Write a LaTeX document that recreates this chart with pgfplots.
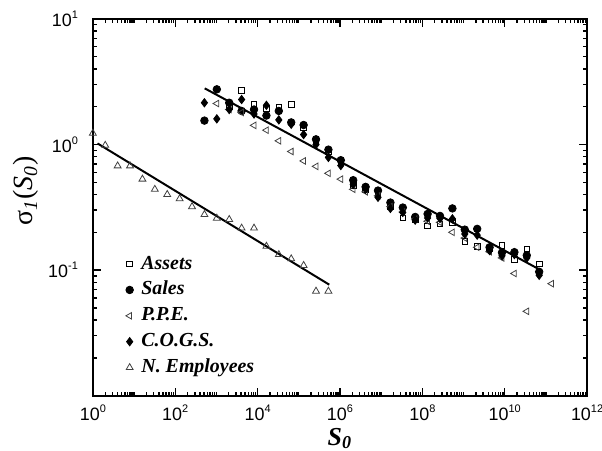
\documentclass[border=0pt]{standalone}
\usepackage{pgfplots}
\pgfplotsset{compat=1.18}
\usepackage{fontspec}
\setmainfont{Liberation Serif}
\setsansfont{Liberation Sans}
\newcommand{\tl}[1]{10\raisebox{0.85ex}{\fontsize{5.5}{6}\selectfont #1}}
\begin{document}
\begin{tikzpicture}
\begin{axis}[
  scale only axis,
  width=248.35pt, height=189.35pt,
  xmode=log, ymode=log,
  xmin=1, xmax=1e12, ymin=0.01, ymax=10,
  axis line style={line width=1.2pt},
  every tick/.style={black, line width=0.7pt},
  major tick length=4pt, minor tick length=2pt,
  xtick={1,1e2,1e4,1e6,1e8,1e10,1e12},
  xticklabels={\tl{0},\tl{2},\tl{4},\tl{6},\tl{8},\tl{10},\tl{12}},
  minor xtick={2e0,3e0,4e0,5e0,6e0,7e0,8e0,9e0,1e1,2e1,3e1,4e1,5e1,6e1,7e1,8e1,9e1,
    2e2,3e2,4e2,5e2,6e2,7e2,8e2,9e2,1e3,2e3,3e3,4e3,5e3,6e3,7e3,8e3,9e3,
    2e4,3e4,4e4,5e4,6e4,7e4,8e4,9e4,1e5,2e5,3e5,4e5,5e5,6e5,7e5,8e5,9e5,
    2e6,3e6,4e6,5e6,6e6,7e6,8e6,9e6,1e7,2e7,3e7,4e7,5e7,6e7,7e7,8e7,9e7,
    2e8,3e8,4e8,5e8,6e8,7e8,8e8,9e8,1e9,2e9,3e9,4e9,5e9,6e9,7e9,8e9,9e9,
    2e10,3e10,4e10,5e10,6e10,7e10,8e10,9e10,1e11,2e11,3e11,4e11,5e11,6e11,7e11,8e11,9e11},
  ytick={0.1,1,10},
  yticklabels={\tl{-1},\tl{0},\tl{1}},
  minor ytick={2e-2,3e-2,4e-2,5e-2,6e-2,7e-2,8e-2,9e-2,2e-1,3e-1,4e-1,5e-1,6e-1,7e-1,8e-1,9e-1,2,3,4,5,6,7,8,9},
  xticklabel style={font=\sffamily\fontsize{9}{10}\selectfont, yshift=-1pt},
  yticklabel style={font=\sffamily\fontsize{9}{10}\selectfont, xshift=-4pt},
  xlabel={\fontsize{13}{15}\selectfont\textbf{\textit{S}}\textsubscript{\textbf{\textit{0}}}},
  xlabel style={at={(axis description cs:0.5,0)}, anchor=center, yshift=-21.5pt},
  ylabel={\fontsize{14}{16}\selectfont σ\textsubscript{\textit{1}}(\textit{S}\textsubscript{\textit{0}})},
  ylabel style={at={(axis description cs:-0.135,0.544)}, anchor=center},
  legend image code/.code={\draw[#1] plot coordinates {(0pt,0pt)};},
  legend cell align=left,
  legend style={at={(0.054,0.39)}, anchor=north west, draw=none, fill=none,
    font=\bfseries\itshape\fontsize{10}{12}\selectfont, row sep=2pt, column sep=3pt,
    nodes={inner sep=1pt, text height=7pt, text depth=2pt}},
]
% Assets
\addplot[only marks, mark=square, mark size=1.4pt, mark options={draw=black, line width=0.45pt}] coordinates {
(2048,2.0)(4096,2.69)(8192,2.11)(16384,1.94)(32768,1.99)(65536,2.09)(1.31072e5,1.35)(2.62144e5,1.05)(5.24288e5,0.87)
(1.048576e6,0.72)(2.097152e6,0.47)(4.194304e6,0.44)(8.388608e6,0.40)(1.6777e7,0.32)(3.3554e7,0.26)(6.7109e7,0.25)
(1.34218e8,0.225)(2.68435e8,0.233)(5.36871e8,0.24)(1.073742e9,0.169)(2.147484e9,0.155)(4.294967e9,0.148)
(8.589935e9,0.157)(1.7179869e10,0.122)(3.4359738e10,0.148)(6.8719477e10,0.112)};
\addlegendentry{Assets}
% Sales
\addplot[only marks, mark=*, mark size=1.9pt, mark options={draw=black, fill=black}] coordinates {
(512,1.55)(1024,2.75)(2048,2.15)(4096,1.85)(8192,1.90)(16384,1.70)(32768,1.85)(65536,1.50)(1.31072e5,1.43)
(2.62144e5,1.10)(5.24288e5,0.91)(1.048576e6,0.75)(2.097152e6,0.52)(4.194304e6,0.46)(8.388608e6,0.43)
(1.6777e7,0.345)(3.3554e7,0.315)(6.7109e7,0.265)(1.34218e8,0.28)(2.68435e8,0.27)(5.36871e8,0.31)
(1.073742e9,0.21)(2.147484e9,0.213)(4.294967e9,0.152)(8.589935e9,0.138)(1.7179869e10,0.139)
(3.4359738e10,0.131)(6.8719477e10,0.097)};
\addlegendentry{Sales}
% PPE
\addplot[only marks, mark=triangle, mark size=1.9pt, mark options={draw=black!75, line width=0.4pt, rotate=90}] coordinates {
(1024,2.12)(2048,1.9)(4096,1.8)(8192,1.42)(16384,1.30)(32768,1.07)(65536,0.88)(1.31072e5,0.74)(2.62144e5,0.67)
(5.24288e5,0.59)(1.048576e6,0.53)(2.097152e6,0.44)(4.194304e6,0.42)(8.388608e6,0.39)(1.6777e7,0.32)
(3.3554e7,0.29)(6.7109e7,0.255)(1.34218e8,0.245)(2.68435e8,0.24)(5.36871e8,0.20)(1.073742e9,0.18)
(2.147484e9,0.152)(4.294967e9,0.14)(8.589935e9,0.125)(1.7179869e10,0.094)(3.4359738e10,0.047)(1.37439e11,0.078)};
\addlegendentry{P.P.E.}
% COGS
\addplot[only marks, mark=diamond*, mark size=2.1pt, mark options={draw=black, fill=black}] coordinates {
(512,2.15)(1024,1.60)(2048,1.90)(4096,2.28)(8192,1.75)(16384,2.05)(32768,1.57)(65536,1.45)(1.31072e5,1.20)
(2.62144e5,1.00)(5.24288e5,0.79)(1.048576e6,0.68)(2.097152e6,0.48)(4.194304e6,0.44)(8.388608e6,0.38)
(1.6777e7,0.31)(3.3554e7,0.288)(6.7109e7,0.25)(1.34218e8,0.26)(2.68435e8,0.258)(5.36871e8,0.256)
(1.073742e9,0.194)(2.147484e9,0.19)(4.294967e9,0.143)(8.589935e9,0.13)(1.7179869e10,0.133)
(3.4359738e10,0.125)(6.8719477e10,0.091)};
\addlegendentry{C.O.G.S.}
% N. Employees
\addplot[only marks, mark=triangle, mark size=2pt, mark options={draw=black!75, line width=0.4pt}] coordinates {
(1,1.23)(2,0.986)(4,0.676)(8,0.676)(16,0.53)(32,0.44)(64,0.40)(128,0.37)(256,0.32)(512,0.277)
(1024,0.259)(2048,0.253)(4096,0.216)(8192,0.216)(16384,0.155)(32768,0.133)(65536,0.123)
(1.31072e5,0.109)(2.62144e5,0.068)(5.24288e5,0.068)};
\addlegendentry{N. Employees}
% fit lines
\addplot[black, line width=1pt, no marks, forget plot] coordinates {(520,2.8)(6.5e10,0.1025)};
\addplot[black, line width=1pt, no marks, forget plot] coordinates {(1.3,1.02)(5.5e5,0.0766)};
\end{axis}
\pgfresetboundingbox
\path[use as bounding box] ([xshift=-46.65pt,yshift=-27.65pt]current axis.south west) rectangle ([xshift=7.5pt,yshift=9.5pt]current axis.north east);
\end{tikzpicture}
\end{document}
